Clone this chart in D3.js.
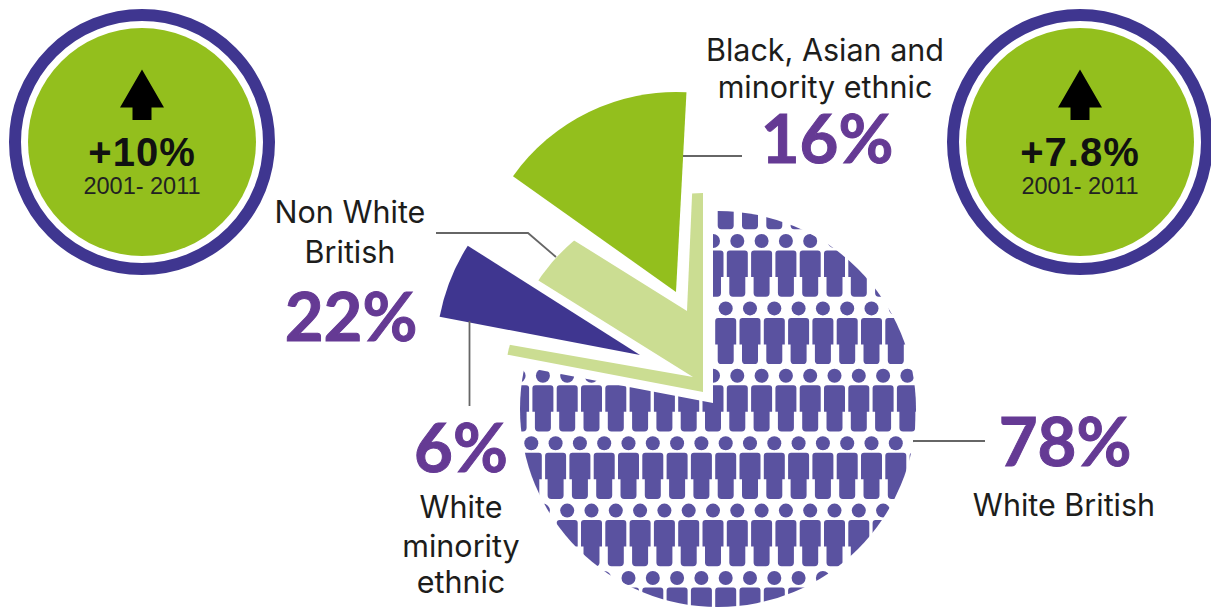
<!DOCTYPE html>
<html>
<head>
    <script src="https://cdn.jsdelivr.net/npm/d3@7"></script>
</head>
<style>
    body { margin: 0; background: white; }
    text { text-anchor: middle; }
    .label { font-family: Inter, sans-serif; font-size: 30.5px; fill: #1d1d1b; }
    .pct { font-family: Lato, sans-serif; font-size: 67px; font-weight: 700; fill: #653a94; stroke: #653a94; stroke-width: 1px; }
    .change { font-family: "Liberation Sans", sans-serif; font-size: 40px; font-weight: 700; fill: #111; letter-spacing: 1px; }
    .years { font-family: "Liberation Sans", sans-serif; font-size: 23.5px; fill: #222; }
</style>
<body>
<div id="chart"></div>

<script>
    // percentages shown on the pie
    var groups = ['White British', 'Non White British'];
    var groupShares = [78, 22];
    var subGroups = ['Black, Asian and minority ethnic', 'White minority ethnic'];
    var subShares = [16, 6];

    // the two badges
    var changes = ['+10%', '+7.8%'];
    var changeYears = ['2001- 2011', '2001- 2011'];

    var width = 1211, height = 607;
    var purple = '#5a52a0', navy = '#3f3690', green = '#93bf1d', pale = '#cbdd92';

    var svg = d3.select('#chart').append('svg')
        .attr('width', width)
        .attr('height', height)
        .style('display', 'block');

    var defs = svg.append('defs');

    var angle = d3.scaleLinear().domain([0, 100]).range([0, 2 * Math.PI]);
    var deg = Math.PI / 180;
    var arc = d3.arc().innerRadius(0);

    var pie = d3.pie().sort(null).value(function(d) { return d; })(groupShares);

    // white british: people clipped to a circle and to the 78% wedge
    defs.append('clipPath').attr('id', 'circleClip')
        .append('circle').attr('cx', 718).attr('cy', 409).attr('r', 198);

    defs.append('clipPath').attr('id', 'wedgeClip')
        .append('path')
        .attr('transform', 'translate(713,403)')
        .attr('d', arc({ outerRadius: 300, startAngle: pie[0].startAngle, endAngle: pie[0].endAngle }));

    var rows = d3.range(-1, 6);
    var people = [];
    rows.forEach(function(r) {
        d3.range(-9, 9).forEach(function(c) {
            people.push({
                x: (r % 2 === 0 ? 737.3 : 725.7) + c * 24.3,
                y: 241 + r * 67.4
            });
        });
    });

    var bodyPath = 'M-10.5,12.5 a3,3 0 0 1 3,-3 h15 a3,3 0 0 1 3,3 V36 h-2.5 V52 a3.7,3.7 0 0 1 -3.7,3.7'
        + ' h-8.6 a3.7,3.7 0 0 1 -3.7,-3.7 V36 h-2.5 Z';

    var peopleG = svg.append('g').attr('clip-path', 'url(#circleClip)')
        .append('g').attr('clip-path', 'url(#wedgeClip)');

    var person = peopleG.selectAll('g.person')
        .data(people)
        .enter()
        .append('g')
        .attr('class', 'person')
        .attr('transform', function(d) { return 'translate(' + d.x + ',' + d.y + ')'; })
        .attr('fill', purple);

    person.append('circle').attr('r', 7);
    person.append('path').attr('d', bodyPath);

    // non white british sector, the sub groups sit on top of it
    svg.append('path')
        .attr('transform', 'translate(703,392)')
        .attr('fill', pale)
        .attr('d', arc({ outerRadius: 199, startAngle: pie[1].startAngle, endAngle: pie[1].endAngle }));

    var subLayout = [
        { mask: [687, 311], maskFrom: -58, maskTo: 2.5, apex: [676, 292], from: -54.6, r: 200, fill: green },
        { mask: [693, 377], maskFrom: -80, maskTo: -58, apex: [640, 355], from: -79.2, r: 204, fill: navy }
    ];

    subLayout.forEach(function(s, i) {
        svg.append('path')
            .attr('transform', 'translate(' + s.mask + ')')
            .attr('fill', 'white')
            .attr('d', arc({ outerRadius: 260, startAngle: s.maskFrom * deg, endAngle: s.maskTo * deg }));
    });

    subLayout.forEach(function(s, i) {
        svg.append('path')
            .attr('transform', 'translate(' + s.apex + ')')
            .attr('fill', s.fill)
            .attr('d', arc({ outerRadius: s.r, startAngle: s.from * deg, endAngle: s.from * deg + angle(subShares[i]) }));
    });

    // leader lines
    var leaders = [
        [[683, 156], [742, 156]],
        [[436, 233], [528, 233], [556, 257]],
        [[469.5, 321], [469.5, 406]],
        [[913, 441], [985, 441]]
    ];

    svg.selectAll('path.leader')
        .data(leaders)
        .enter()
        .append('path')
        .attr('class', 'leader')
        .attr('fill', 'none')
        .attr('stroke', '#666')
        .attr('stroke-width', 1.8)
        .attr('d', d3.line());

    // labels
    function label(lines, x, ys) {
        lines.forEach(function(t, i) {
            svg.append('text').attr('class', 'label').attr('x', x).attr('y', ys[i]).text(t);
        });
    }
    function pct(value, x, y) {
        svg.append('text').attr('class', 'pct').attr('x', x).attr('y', y).text(value + '%');
    }

    label(['Black, Asian and', 'minority ethnic'], 825, [61, 98]);
    pct(subShares[0], 827, 163);
    label(['Non White', 'British'], 350, [223, 263]);
    pct(groupShares[1], 351, 341);
    pct(subShares[1], 461, 472);
    label(['White', 'minority', 'ethnic'], 461, [518, 557, 593]);
    pct(groupShares[0], 1065, 466);
    label(['White British'], 1064, [516]);

    // badges
    var badgeX = [142, 1080];
    var arrow = [[0, -72.5], [22, -34.5], [9.5, -34.5], [9.5, -22], [-9.5, -22], [-9.5, -34.5], [-22, -34.5]];

    var badge = svg.selectAll('g.badge')
        .data(changes)
        .enter()
        .append('g')
        .attr('class', 'badge')
        .attr('transform', function(d, i) { return 'translate(' + badgeX[i] + ',142)'; });

    badge.append('circle').attr('r', 127).attr('fill', 'none').attr('stroke', navy).attr('stroke-width', 12);
    badge.append('circle').attr('r', 114).attr('fill', green);
    badge.append('path').attr('d', d3.line().curve(d3.curveLinearClosed)(arrow)).attr('fill', 'black');
    badge.append('text').attr('class', 'change').attr('y', 24).text(function(d) { return d; });
    badge.append('text').attr('class', 'years').attr('y', 52).text(function(d, i) { return changeYears[i]; });
</script>
</body>
</html>
